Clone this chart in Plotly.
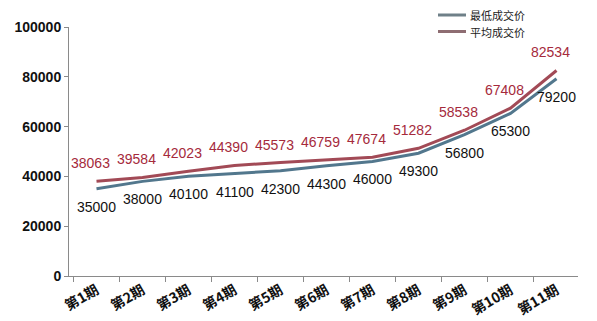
import plotly.graph_objects as go

categories = ["第1期", "第2期", "第3期", "第4期", "第5期", "第6期", "第7期", "第8期", "第9期", "第10期", "第11期"]
min_price = [35000, 38000, 40100, 41100, 42300, 44300, 46000, 49300, 56800, 65300, 79200]
avg_price = [38063, 39584, 42023, 44390, 45573, 46759, 47674, 51282, 58538, 67408, 82534]
y_ticks = [0, 20000, 40000, 60000, 80000, 100000]
series_names = ["最低成交价", "平均成交价"]

BLUE = "#52778d"
RED = "#a24a56"
RED_TEXT = "#a52a3c"
FONT = "Liberation Sans, Arial, sans-serif"
CJK = "Noto Sans CJK SC, sans-serif"

fig = go.Figure()
fig.add_trace(go.Scatter(x=categories, y=min_price, mode="lines", name=series_names[0],
                         line=dict(color=BLUE, width=3), hoverinfo="skip"))
fig.add_trace(go.Scatter(x=categories, y=avg_price, mode="lines", name=series_names[1],
                         line=dict(color=RED, width=3), hoverinfo="skip"))

annotations = []
for c, v in zip(categories, min_price):
    annotations.append(dict(x=c, y=v, xref="x", yref="y", text=str(v), showarrow=False,
                            yshift=-18, xshift=0,
                            font=dict(family=FONT, size=14, color="#111111")))
for c, v in zip(categories, avg_price):
    annotations.append(dict(x=c, y=v, xref="x", yref="y", text=str(v), showarrow=False,
                            yshift=18, xshift=-6,
                            font=dict(family=FONT, size=14, color=RED_TEXT)))

# manual legend (compact, like the reference)
legend_colors = ["#6f8088", "#8e6d72"]
shapes = []
for i, (name, col) in enumerate(zip(series_names, legend_colors)):
    ypix = 15 + i * 16.5
    yp = (276 - ypix) / 249
    shapes.append(dict(type="line", xref="paper", yref="paper",
                       x0=(438 - 69) / 509, x1=(466 - 69) / 509, y0=yp, y1=yp,
                       line=dict(color=col, width=3)))
    annotations.append(dict(x=(468 - 69) / 509, y=yp, xref="paper", yref="paper",
                            text=name, showarrow=False, xanchor="left", yanchor="middle",
                            font=dict(family=CJK, size=11, color="#222222")))

fig.update_layout(
    width=597, height=321,
    margin=dict(l=69, r=19, t=27, b=45),
    paper_bgcolor="white", plot_bgcolor="white",
    showlegend=False,
    annotations=annotations,
    shapes=shapes,
    xaxis=dict(showgrid=False, showline=True, linecolor="#8a8a8a", linewidth=1,
               ticks="outside", tickcolor="#8a8a8a", ticklen=5, tickson="boundaries",
               tickangle=-30, automargin=False,
               tickfont=dict(family=CJK, size=14, color="#111111", weight="bold"),
               fixedrange=True),
    yaxis=dict(range=[0, 100000], tickvals=y_ticks, tickformat="d", showgrid=False,
               zeroline=False, showline=True, linecolor="#8a8a8a", linewidth=1,
               ticks="outside", tickcolor="#8a8a8a", ticklen=4, automargin=False,
               tickfont=dict(family=FONT, size=14, color="#111111", weight="bold"),
               fixedrange=True),
)

fig.write_html("out.html")
